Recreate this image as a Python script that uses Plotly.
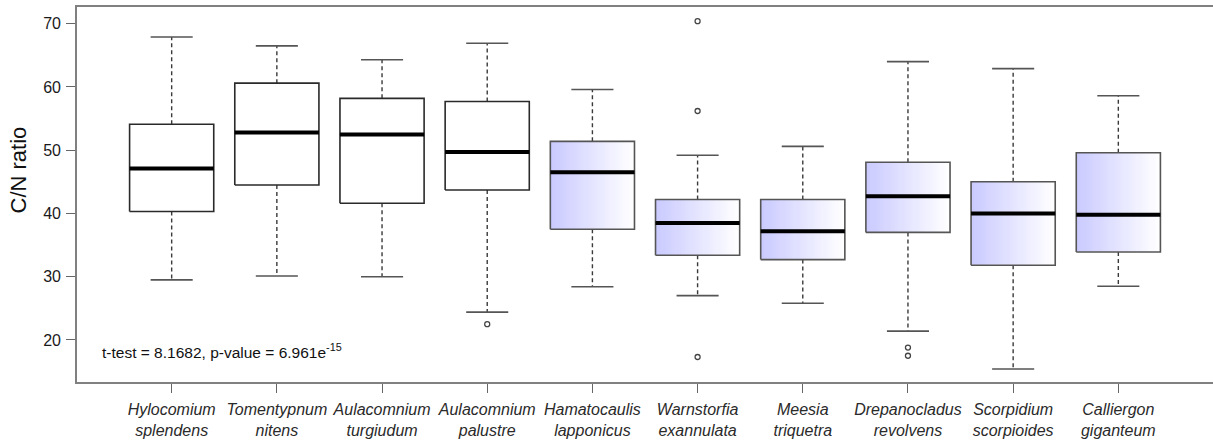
import numpy as np
import plotly.graph_objects as go

# ---------------- data ----------------
species = ["Hylocomium<br>splendens", "Tomentypnum<br>nitens", "Aulacomnium<br>turgiudum",
           "Aulacomnium<br>palustre", "Hamatocaulis<br>lapponicus", "Warnstorfia<br>exannulata",
           "Meesia<br>triquetra", "Drepanocladus<br>revolvens", "Scorpidium<br>scorpioides",
           "Calliergon<br>giganteum"]
upper_whisker = [67.9, 66.5, 64.3, 66.9, 59.6, 49.2, 50.6, 64.0, 62.9, 58.6]
q3_values     = [54.1, 60.6, 58.2, 57.7, 51.4, 42.2, 42.2, 48.1, 45.0, 49.6]
medians       = [47.1, 52.8, 52.5, 49.7, 46.5, 38.5, 37.2, 42.7, 40.0, 39.8]
q1_values     = [40.3, 44.5, 41.6, 43.7, 37.5, 33.4, 32.7, 37.0, 31.8, 33.9]
lower_whisker = [29.5, 30.1, 30.0, 24.4, 28.4, 27.0, 25.8, 21.4, 15.4, 28.5]
gradient_box  = [False, False, False, False, True, True, True, True, True, True]
outlier_group = [4, 6, 6, 6, 8, 8]
outlier_value = [22.5, 70.4, 56.2, 17.3, 18.8, 17.5]
y_ticks = [20, 30, 40, 50, 60, 70]
annotation_text = "t-test = 8.1682, p-value = 6.961e<sup>-15</sup>"
y_title = "C/N ratio"

# ---------------- figure ----------------
W, H = 1213, 441
L, R, T, B = 77, 0, 7, 59
half_box = 0.4
half_cap = 0.2
pos = np.arange(1, len(species) + 1)

fig = go.Figure()

# gradient fills (heatmap strips)
n_strip = 60
for i, p in enumerate(pos):
    if not gradient_box[i]:
        continue
    xe = np.linspace(p - half_box, p + half_box, n_strip + 1)
    z = [list(np.linspace(0, 1, n_strip))]
    fig.add_trace(go.Heatmap(x=xe, y=[q1_values[i], q3_values[i]], z=z,
                             colorscale=[[0, "#cacaff"], [1, "#ffffff"]],
                             showscale=False, hoverinfo="skip", zsmooth=False))

# whiskers (dashed)
wx, wy = [], []
for i, p in enumerate(pos):
    wx += [p, p, None, p, p, None]
    wy += [q3_values[i], upper_whisker[i], None, q1_values[i], lower_whisker[i], None]
fig.add_trace(go.Scatter(x=wx, y=wy, mode="lines",
                         line=dict(color="#3a3a3a", width=1.4, dash="4px,3px"),
                         hoverinfo="skip", showlegend=False))

# caps
cx, cy = [], []
for i, p in enumerate(pos):
    cx += [p - half_cap, p + half_cap, None, p - half_cap, p + half_cap, None]
    cy += [upper_whisker[i], upper_whisker[i], None, lower_whisker[i], lower_whisker[i], None]
fig.add_trace(go.Scatter(x=cx, y=cy, mode="lines",
                         line=dict(color="#555555", width=1.6),
                         hoverinfo="skip", showlegend=False))

# box outlines
for grad, col in ((False, "#2a2a2a"), (True, "#555555")):
    bx, by = [], []
    for i, p in enumerate(pos):
        if gradient_box[i] != grad:
            continue
        bx += [p - half_box, p + half_box, p + half_box, p - half_box, p - half_box, None]
        by += [q1_values[i], q1_values[i], q3_values[i], q3_values[i], q1_values[i], None]
    fig.add_trace(go.Scatter(x=bx, y=by, mode="lines",
                             line=dict(color=col, width=1.6),
                             hoverinfo="skip", showlegend=False))

# medians
mx, my = [], []
for i, p in enumerate(pos):
    mx += [p - half_box, p + half_box, None]
    my += [medians[i], medians[i], None]
fig.add_trace(go.Scatter(x=mx, y=my, mode="lines",
                         line=dict(color="#000000", width=4),
                         hoverinfo="skip", showlegend=False))

# outliers
fig.add_trace(go.Scatter(x=outlier_group, y=outlier_value, mode="markers",
                         marker=dict(symbol="circle-open", size=5, color="#444444",
                                     line=dict(width=1.3)),
                         hoverinfo="skip", showlegend=False))

tick_text = ["<i>" + s.replace("<br>", "</i><br><i>") + "</i>" for s in species]

fig.update_layout(
    width=W, height=H,
    margin=dict(l=L, r=R, t=T, b=B, pad=0),
    paper_bgcolor="white", plot_bgcolor="white",
    showlegend=False,
    font=dict(family="Liberation Sans, Arial, sans-serif", color="#222222"),
    xaxis=dict(range=[0.1, 10.9], tickmode="array", tickvals=list(pos), ticktext=tick_text,
               ticks="outside", ticklen=9, tickcolor="#666666", tickwidth=1.3,
               showline=True, linecolor="#808080", linewidth=1.6, mirror=True,
               showgrid=False, zeroline=False, tickfont=dict(size=16, color="#2a2a2a"),
               ticklabelstandoff=3),
    yaxis=dict(range=[13.35, 72.64], tickmode="array", tickvals=y_ticks,
               ticks="outside", ticklen=9, tickcolor="#666666", tickwidth=1.3,
               showline=True, linecolor="#808080", linewidth=1.6, mirror=False,
               showgrid=False, zeroline=False, tickfont=dict(size=16, color="#1a1a1a"),
               ticklabelstandoff=2),
)

fig.add_annotation(x=0.32, y=18.3, xref="x", yref="y", text=annotation_text,
                   showarrow=False, xanchor="left", yanchor="middle",
                   font=dict(size=15.5, color="#111111"))
fig.add_annotation(x=(17.5 - L) / (W - L - R), y=(H - B - 170) / (H - T - B),
                   xref="paper", yref="paper", text=y_title, textangle=-90,
                   showarrow=False, xanchor="center", yanchor="middle",
                   font=dict(size=22, color="#111111"))

fig.write_html("out.html")
